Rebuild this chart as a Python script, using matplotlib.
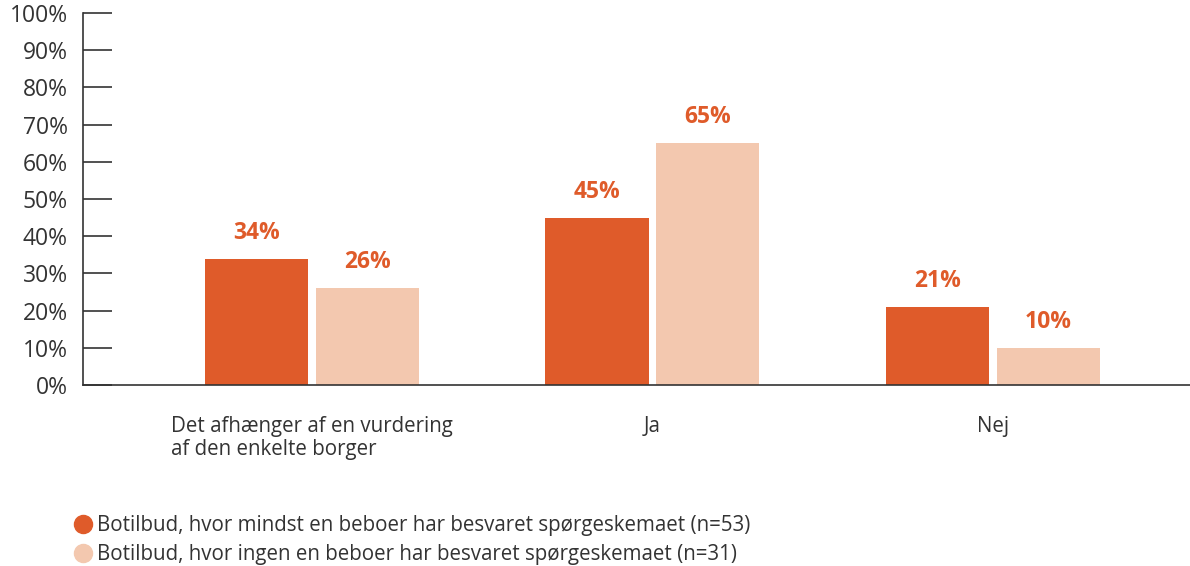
import numpy as np
import matplotlib.pyplot as plt
from matplotlib.lines import Line2D

categories = ["Det afhænger af en vurdering\naf den enkelte borger", "Ja", "Nej"]
with_resp = [34, 45, 21]
without_resp = [26, 65, 10]
series_names = ["Botilbud, hvor mindst en beboer har besvaret spørgeskemaet (n=53)",
                "Botilbud, hvor ingen en beboer har besvaret spørgeskemaet (n=31)"]
yticks = np.arange(0, 101, 10)

dark = "#DF5B2A"
light = "#F3C8AF"
txt = "#333333"

plt.rcParams["font.family"] = ["Open Sans", "DejaVu Sans"]

fig = plt.figure(figsize=(11.9, 5.66), dpi=100)
ax = fig.add_axes([83 / 1190, 1 - 385 / 566, 1 - 83 / 1190, 372 / 566])

x = np.arange(len(categories))
w = 0.303
off = 0.163
b1 = ax.bar(x - off, with_resp, w, color=dark)
b2 = ax.bar(x + off, without_resp, w, color=light)

for bars, vals in ((b1, with_resp), (b2, without_resp)):
    for b, v in zip(bars, vals):
        ax.annotate(f"{v}%", (b.get_x() + b.get_width() / 2, v), xytext=(0, 10),
                    textcoords="offset points", ha="center", va="bottom",
                    fontsize=16.5, fontweight="bold", color=dark)

ax.set_xlim(-0.674, 2.58)
ax.set_ylim(0, 100)
ax.set_yticks(yticks)
ax.set_yticklabels([f"{t}%" for t in yticks], fontsize=16.5, color=txt)
ax.tick_params(axis="y", direction="in", length=21, width=1.2, color="#333333", pad=11)
ax.set_xticks(x)
ax.set_xticklabels(categories, fontsize=14.8, color=txt, linespacing=1.15)
ax.tick_params(axis="x", length=0, pad=22)
for lab in ax.get_xticklabels():
    lab.set_multialignment("left")

for s in ("top", "right"):
    ax.spines[s].set_visible(False)
for s in ("left", "bottom"):
    ax.spines[s].set_color("#333333")
    ax.spines[s].set_linewidth(1.2)

handles = [Line2D([], [], marker="o", linestyle="none", markersize=13, color=c)
           for c in (dark, light)]
fig.legend(handles, series_names, loc="upper left", bbox_to_anchor=(62 / 1190, 1 - 507 / 566),
           frameon=False, fontsize=14.8, handletextpad=0.1, labelspacing=0.4,
           labelcolor=txt, handlelength=1.2, borderaxespad=0)

fig.savefig("out.png", dpi=100)
